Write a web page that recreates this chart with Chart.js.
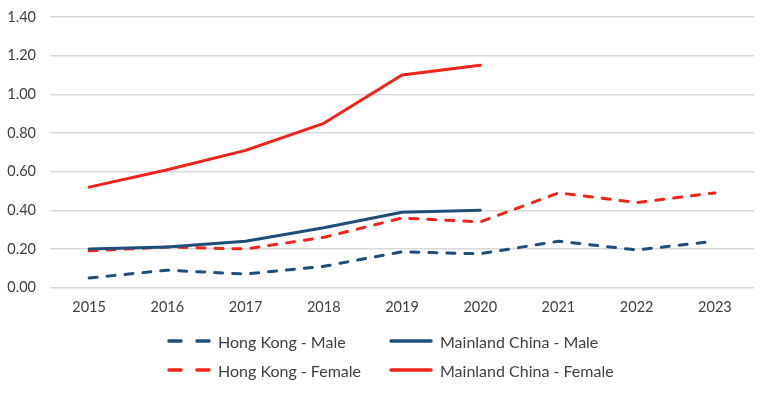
<!DOCTYPE html>
<html lang="en">
<head>
  <meta charset="UTF-8">
  <title>Hong Kong vs Mainland China</title>
  <script src="https://cdn.jsdelivr.net/npm/chart.js"></script>
  <style>
    body { margin: 0; background: #fff; font-family: Lato, "Open Sans", sans-serif; }
    #wrap { position: relative; width: 772px; height: 393px; }
    #legend {
      position: absolute; left: 166px; top: 330px;
      display: grid; grid-template-columns: 222px 240px; row-gap: 7px;
      font-size: 16px; color: #404040;
    }
    .item { display: flex; align-items: center; height: 22px; }
    .item svg { margin-right: 6px; }
  </style>
</head>
<body>
  <div id="wrap">
    <canvas id="grafico" width="772" height="393"></canvas>
    <div id="legend"></div>
  </div>

  <script>
    // dados
    const anos = ['2015', '2016', '2017', '2018', '2019', '2020', '2021', '2022', '2023'];
    const hkMale = [0.05, 0.09, 0.07, 0.11, 0.185, 0.175, 0.24, 0.195, 0.24];
    const hkFemale = [0.19, 0.21, 0.20, 0.26, 0.36, 0.34, 0.49, 0.44, 0.49];
    const mcMale = [0.20, 0.21, 0.24, 0.31, 0.39, 0.40, null, null, null];
    const mcFemale = [0.52, 0.61, 0.71, 0.85, 1.10, 1.15, null, null, null];

    const azul = '#1F4E79';
    const vermelho = '#F2231A';
    const traco = [8, 10];

    const datasets = [
      { label: 'Hong Kong - Male', data: hkMale, borderColor: azul, borderDash: traco },
      { label: 'Mainland China - Male', data: mcMale, borderColor: azul, borderDash: [] },
      { label: 'Hong Kong - Female', data: hkFemale, borderColor: vermelho, borderDash: traco },
      { label: 'Mainland China - Female', data: mcFemale, borderColor: vermelho, borderDash: [] }
    ].map(d => Object.assign(d, {
      backgroundColor: d.borderColor,
      borderWidth: 3,
      borderCapStyle: 'round',
      borderJoinStyle: 'round',
      pointRadius: 0,
      fill: false,
      tension: 0
    }));

    // apaga a linha vertical que aparece na borda esquerda da área do gráfico
    const limpaBorda = {
      id: 'limpaBorda',
      afterDraw(c) {
        const ctx = c.ctx, a = c.chartArea;
        ctx.save();
        ctx.fillStyle = '#fff';
        ctx.fillRect(a.left - 4, 0, 4.5, a.bottom + 20);
        ctx.restore();
      }
    };

    const config = {
      type: 'line',
      data: { labels: anos, datasets: datasets },
      plugins: [limpaBorda],
      options: {
        responsive: false,
        animation: false,
        layout: { padding: { left: 7, right: 18, top: 17, bottom: 66 } },
        plugins: { legend: { display: false }, tooltip: { enabled: false } },
        scales: {
          x: {
            offset: true,
            grid: { display: false, drawTicks: false },
            border: { display: false },
            ticks: { color: '#404040', font: { family: 'Lato', size: 14.5 }, padding: 11, maxRotation: 0 }
          },
          y: {
            min: 0, max: 1.4,
            afterFit: s => { s.paddingTop = 0; s.paddingBottom = 0; },
            grid: { color: '#D9D9D9', lineWidth: 1.5, drawTicks: false },
            border: { display: false },
            ticks: {
              stepSize: 0.2, padding: 14, color: '#404040',
              font: { family: 'Lato', size: 14.5 },
              callback: v => v.toFixed(2)
            }
          }
        }
      }
    };

    const chart = new Chart(document.getElementById('grafico').getContext('2d'), config);

    // acerta a margem esquerda para a área do gráfico começar em x = 50
    const ajuste = 50 - chart.chartArea.left;
    if (Math.abs(ajuste) > 0.5) {
      chart.options.layout.padding.left += ajuste;
      chart.update('none');
    }

    // legenda em duas colunas
    const legenda = document.getElementById('legend');
    datasets.forEach(d => {
      const dash = d.borderDash.length ? 'stroke-dasharray="12 16"' : '';
      legenda.insertAdjacentHTML('beforeend',
        `<div class="item"><svg width="46" height="8"><line x1="3" y1="4" x2="43" y2="4" stroke="${d.borderColor}" stroke-width="3.5" stroke-linecap="round" ${dash}/></svg>${d.label}</div>`);
    });
  </script>
</body>
</html>
